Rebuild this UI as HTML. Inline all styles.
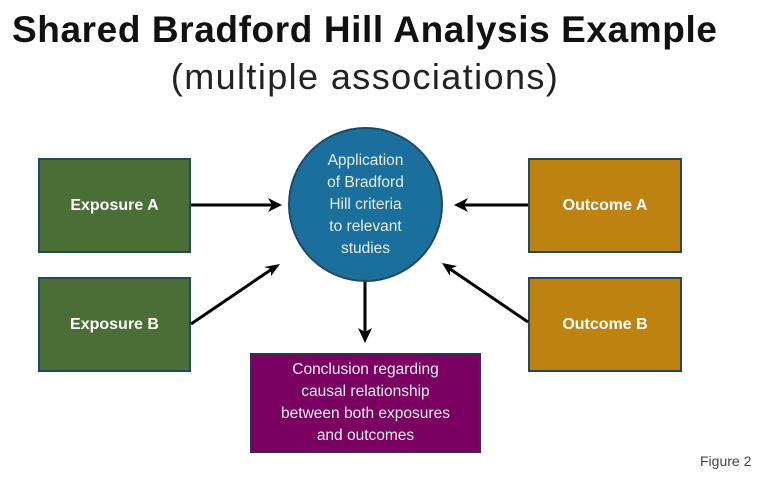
<!DOCTYPE html>
<html><head><style>
body{margin:0;width:773px;height:484px;background:#fff;overflow:hidden;position:relative;font-family:"Liberation Sans",sans-serif}
.t{position:absolute;white-space:nowrap}
.box{position:absolute;box-sizing:border-box;border:2px solid #1e4a66;display:flex;align-items:center;justify-content:center;color:#fff;text-align:center}
.g{background:#4a6e35;font-weight:bold;font-size:16px}
.o{background:#bd820f;font-weight:bold;font-size:16px}
</style></head><body>
<div class="t" style="left:12px;top:9px;font-size:37px;font-weight:bold;color:#111;letter-spacing:0.6px">Shared Bradford Hill Analysis Example</div>
<div class="t" style="left:0;width:730px;text-align:center;top:56px;font-size:36px;color:#222;letter-spacing:1.4px">(multiple associations)</div>
<div class="box g" style="left:38px;top:158px;width:153px;height:95px">Exposure A</div>
<div class="box g" style="left:38px;top:277px;width:153px;height:95px">Exposure B</div>
<div class="box o" style="left:528px;top:158px;width:154px;height:95px">Outcome A</div>
<div class="box o" style="left:528px;top:277px;width:154px;height:95px">Outcome B</div>
<div class="box" style="left:288px;top:127px;width:155px;height:155px;border-radius:50%;background:#1b6f9c;font-size:15.5px;line-height:22px;color:#e8eef2">Application<br>of Bradford<br>Hill criteria<br>to relevant<br>studies</div>
<div class="box" style="left:250px;top:353px;width:231px;height:100px;background:#7a0062;border-color:#3a2a50;font-size:15.5px;line-height:22px;color:#eee">Conclusion regarding<br>causal relationship<br>between both exposures<br>and outcomes</div>
<svg width="773" height="484" style="position:absolute;left:0;top:0">
<g stroke="#000" stroke-width="3">
<line x1="191" y1="205" x2="272" y2="205"/>
<line x1="191" y1="324" x2="272" y2="269"/>
<line x1="528" y1="205" x2="464" y2="205"/>
<line x1="528" y1="322" x2="450" y2="269"/>
<line x1="365" y1="282" x2="365" y2="332"/>
</g>
<g fill="#000">
<polygon points="282,205 268,198 272,205 268,212"/>
<polygon points="280,264 264,267 271,269 271,276"/>
<polygon points="454,205 468,198 464,205 468,212"/>
<polygon points="442,263 457,266 450,269 450,276"/>
<polygon points="365,343 358,328 365,332 372,328"/>
</g>
</svg>
<div class="t" style="left:700px;top:453px;font-size:14px;color:#444">Figure 2</div>
</body></html>
